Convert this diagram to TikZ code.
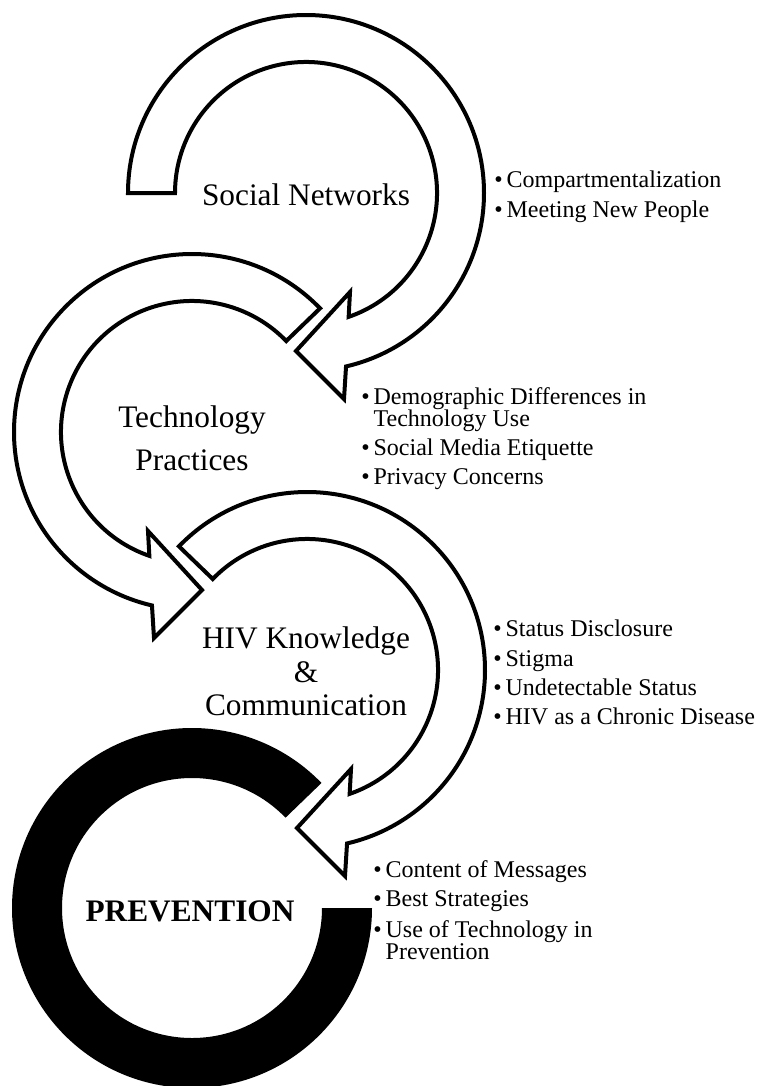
\documentclass[tikz,border=0pt]{standalone}
\usepackage{fontspec}
\setmainfont{Liberation Serif}
\usepackage{tikz}
\usetikzlibrary{positioning}

\newcommand{\bitem}{\textbullet\hspace{3pt}}
\newcommand{\bcont}{\phantom{\textbullet}\hspace{3pt}}

\begin{document}
\begin{tikzpicture}[x=0.75pt, y=0.75pt]

    % Define styles
    \tikzstyle{loop arrow} = [draw=black, fill=white, line width=3pt, line join=miter]
    \tikzstyle{ring} = [fill=black]
    \tikzstyle{stage} = [font=\fontsize{23.5}{25}\selectfont, align=center, inner sep=0pt]
    \tikzstyle{points} = [font=\fontsize{18}{16.5}\selectfont, align=left, anchor=north west, inner sep=0pt]

    \useasboundingbox (0,0) rectangle (758,-1086);

    % Centres of the loops
    \coordinate (c1) at (306,-193);
    \coordinate (c2) at (192,-432);
    \coordinate (c3) at (307,-670);
    \coordinate (c4) at (192,-908);

    % Loop arrows
    \begin{scope}[shift={(c1)}]
        \draw[loop arrow] (180:178) arc[start angle=180, end angle=-77, radius=178] -- (38,-206) -- (-10,-158) -- (44,-99) -- (-71:131) arc[start angle=-71, end angle=180, radius=131] -- cycle;
    \end{scope}
    \begin{scope}[shift={(c2)}, xscale=-1]
        \draw[loop arrow] (136:178) arc[start angle=136, end angle=-77, radius=178] -- (38,-206) -- (-10,-158) -- (44,-99) -- (-71:131) arc[start angle=-71, end angle=136, radius=131] -- cycle;
    \end{scope}
    \begin{scope}[shift={(c3)}]
        \draw[loop arrow] (136:178) arc[start angle=136, end angle=-77, radius=178] -- (38,-206) -- (-10,-158) -- (44,-99) -- (-71:131) arc[start angle=-71, end angle=136, radius=131] -- cycle;
    \end{scope}

    % Prevention ring
    \begin{scope}[shift={(c4)}]
        \fill[ring] (0:180) arc[start angle=0, end angle=-316, radius=180] -- (44:130) arc[start angle=44, end angle=360, radius=130] -- cycle;
    \end{scope}

    % Stage names
    \node[stage] (social) at (306,-195) {Social Networks};
    \node[stage] (tech) at (192,-438.5) {Technology\\[7pt]Practices};
    \node[stage] (hiv) at (306,-671.5) {HIV Knowledge\\\&\\Communication};
    \node[stage, font=\fontsize{23.5}{25}\selectfont\bfseries] (prev) at (190,-911.5) {PREVENTION};

    % Themes
    \node[points] (socialList) at (494,-171) {\bitem Compartmentalization\\[5.5pt]\bitem Meeting New People};
    \node[points] (techList) at (361,-387) {\bitem Demographic Differences in\\\bcont Technology Use\\[5.5pt]\bitem Social Media Etiquette\\[5.5pt]\bitem Privacy Concerns};
    \node[points] (hivList) at (493,-620) {\bitem Status Disclosure\\[5.5pt]\bitem Stigma\\[5.5pt]\bitem Undetectable Status\\[5.5pt]\bitem HIV as a Chronic Disease};
    \node[points] (prevList) at (373,-860) {\bitem Content of Messages\\[5.5pt]\bitem Best Strategies\\[5.5pt]\bitem Use of Technology in\\\bcont Prevention};

\end{tikzpicture}
\end{document}
